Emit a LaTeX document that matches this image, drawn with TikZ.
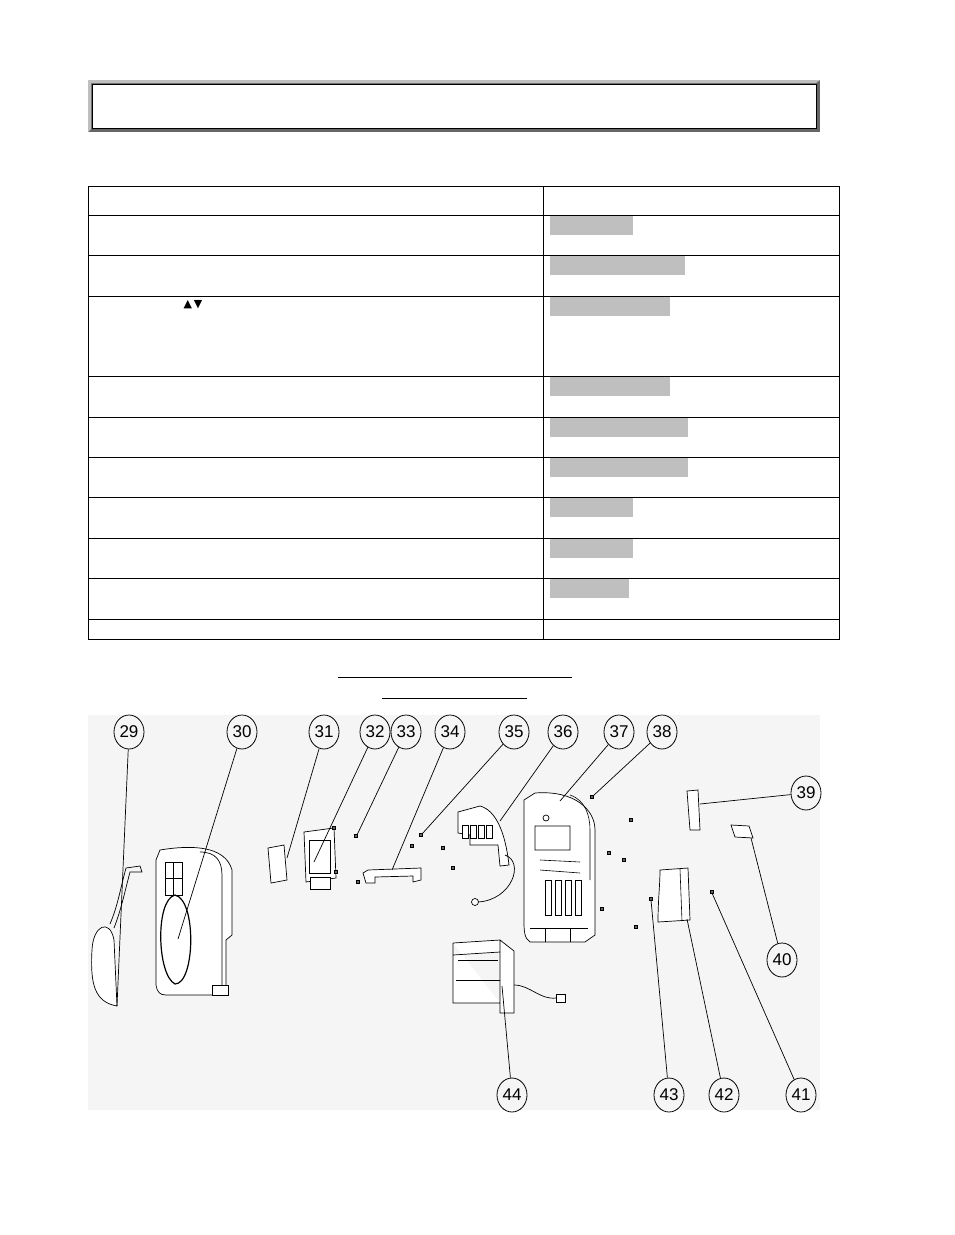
\documentclass[tikz,border=0pt]{standalone}
\usepackage{fontspec}
\setmainfont{Liberation Sans}
\newfontfamily\djv{DejaVu Sans}
\usetikzlibrary{shapes.geometric}
\begin{document}
\begin{tikzpicture}[x=1pt,y=-1pt,
  lbl/.style={draw,ellipse,minimum width=30pt,minimum height=34pt,inner sep=0pt,font=\fontsize{17}{17}\selectfont,line width=0.8pt},
  part/.style={draw,line width=0.7pt,fill=white},
  lead/.style={line width=0.7pt},
  scr/.style={draw,fill=black!60,minimum size=3pt,inner sep=0pt}]
\useasboundingbox (0,0) rectangle (954,1235);
\fill[white] (0,0) rectangle (954,1235);
% header box
\fill[black!60] (88,80) rectangle (820,132);
\fill[black!25] (88,80) -- (820,80) -- (816,83) -- (91,83) -- (91,129) -- (88,132) -- cycle;
\fill[white] (92,84) rectangle (816,128);
\draw[line width=0.8pt] (92,84) rectangle (816,128);
% table
\draw[line width=0.9pt] (88,186) rectangle (839,639);
\draw[line width=0.9pt] (543,186) -- (543,639);
\foreach \y in {215,255,296,376,417,457,497,538,578,619}
  \draw[line width=0.9pt] (88,\y) -- (839,\y);
\foreach \y/\w in {216/633,256/685,297/670,377/670,418/688,458/688,498/633,539/633,579/629}
  \fill[black!25] (550,\y) rectangle (\w,\y+19);
\node[font=\djv\fontsize{11}{11}\selectfont,inner sep=0pt] (arr) at (193,305) {▲\,▼};
% underlines
\draw[line width=0.9pt] (338,677) -- (572,677);
\draw[line width=0.9pt] (382,698) -- (527,698);
% drawing background
\fill[black!4] (88,715) rectangle (820,1110);
% 29
\draw[part] (117,1006) .. controls (95,1002) and (90,985) .. (92,950) .. controls (93,925) and (110,918) .. (114,940) -- cycle;
\draw[line width=0.7pt] (110,924) .. controls (118,905) and (120,890) .. (126,868) -- (140,866) -- (142,872) -- (130,872) .. controls (124,895) and (121,910) .. (114,928);
% 30
\draw[part] (166,995) -- (226,995) -- (226,940) -- (232,935) -- (232,870) .. controls (225,845) and (190,845) .. (160,850) -- (156,860) -- (156,985) .. controls (157,992) and (160,995) .. (166,995) -- cycle;
\draw[line width=0.7pt] (200,852) .. controls (215,852) and (222,860) .. (222,875) -- (222,995);
\draw[line width=0.7pt] (165,862) rectangle (182,895);
\draw[line width=0.7pt] (173,862) -- (173,895) (165,878) -- (182,878);
\draw[line width=1.2pt] (175,895) .. controls (155,900) and (157,975) .. (175,984) .. controls (195,984) and (197,900) .. (175,895);
\draw[part] (212,985) rectangle (228,995);
% 31
\draw[part] (268,848) -- (284,845) -- (287,880) -- (271,883) -- cycle;
% 32
\draw[part] (304,832) -- (334,828) -- (336,878) -- (306,882) -- cycle;
\draw[line width=0.6pt] (309,840) rectangle (330,873);
\draw[part] (310,877) rectangle (330,889);
% 34
\draw[part] (363,873) -- (368,870) -- (421,868) -- (421,880) -- (413,882) -- (413,876) -- (375,877) -- (375,883) -- (366,883) -- cycle;
% 36
\draw[part] (458,812) -- (480,806) .. controls (495,810) and (505,830) .. (509,865) -- (500,866) -- (498,845) -- (470,845) -- (470,835) -- (458,833) -- cycle;
\foreach \x in {462,470,478,486} \draw[part] (\x,825) rectangle (\x+6,838);
\draw[line width=0.7pt] (505,855) .. controls (525,862) and (512,900) .. (478,902);
\draw[part] (475,902) circle (3.5);
% 37
\draw[part] (530,942) .. controls (524,938) and (524,930) .. (524,920) -- (524,800) -- (535,793) .. controls (575,790) and (595,810) .. (595,830) -- (595,935) -- (585,942) -- cycle;
\draw[line width=0.6pt] (570,795) .. controls (585,800) and (590,815) .. (590,830) -- (590,880);
\draw[line width=0.6pt] (535,826) rectangle (570,850) (540,860) -- (580,862) (540,870) -- (580,873);
\foreach \x in {545,555,565,575} \draw[line width=0.6pt] (\x,880) rectangle (\x+6,915);
\draw[line width=0.6pt] (530,928) -- (588,928) (545,928) -- (545,942) (570,928) -- (570,942);
\draw[part] (546,818) circle (3);
% 39 40
\draw[part] (687,791) -- (698,790) -- (700,830) -- (690,830) -- cycle;
\draw[part] (731,825) -- (749,826) -- (753,838) -- (735,837) -- cycle;
% 42
\draw[part] (660,870) -- (688,868) -- (690,920) -- (658,922) .. controls (658,900) and (660,885) .. (660,870) -- cycle;
\draw[line width=0.6pt] (680,869) -- (682,921);
% 44
\draw[part] (453,943) -- (500,940) -- (514,951) -- (514,1013) -- (500,1013) -- (500,952) -- (453,955) -- (453,1003) -- (500,1003) (453,943) -- (453,955) (500,940) -- (500,952);
\draw[line width=0.6pt] (456,980) -- (500,980) (458,960) -- (498,960);
\draw[line width=0.7pt] (514,985) .. controls (530,985) and (540,1000) .. (556,998);
\draw[part] (556,994) rectangle (565,1002);
% screws
\foreach \p in {(334,828),(336,872),(358,882),(356,836),(412,846),(421,835),(443,848),(453,868),(592,797),(631,820),(609,853),(624,860),(602,909),(636,927),(712,892),(651,899)}
  \node[scr] at \p {};
% labels
\node[lbl] (l29) at (129,732) {29};
\node[lbl] (l30) at (242,732) {30};
\node[lbl] (l31) at (324,732) {31};
\node[lbl] (l32) at (375,732) {32};
\node[lbl] (l33) at (406,732) {33};
\node[lbl] (l34) at (450,732) {34};
\node[lbl] (l35) at (514,732) {35};
\node[lbl] (l36) at (563,732) {36};
\node[lbl] (l37) at (619,732) {37};
\node[lbl] (l38) at (662,732) {38};
\node[lbl] (l39) at (806,793) {39};
\node[lbl] (l40) at (782,960) {40};
\node[lbl] (l41) at (801,1095) {41};
\node[lbl] (l42) at (724,1095) {42};
\node[lbl] (l43) at (669,1095) {43};
\node[lbl] (l44) at (512,1095) {44};
\coordinate (p29) at (117,1006); \coordinate (p30) at (178,939);
\coordinate (p31) at (287,858); \coordinate (p32) at (314,862);
\coordinate (p33) at (357,835); \coordinate (p34) at (392,870);
\coordinate (p35) at (422,834); \coordinate (p36) at (500,821);
\coordinate (p37) at (560,801); \coordinate (p38) at (593,796);
\coordinate (p39) at (700,804); \coordinate (p40) at (751,838);
\coordinate (p41) at (712,893); \coordinate (p42) at (687,919);
\coordinate (p43) at (651,900); \coordinate (p44) at (502,986);
\foreach \n in {29,30,31,32,33,34,35,36,37,38,39,40,41,42,43,44}
  \draw[lead] (l\n) -- (p\n);
\end{tikzpicture}
\end{document}
